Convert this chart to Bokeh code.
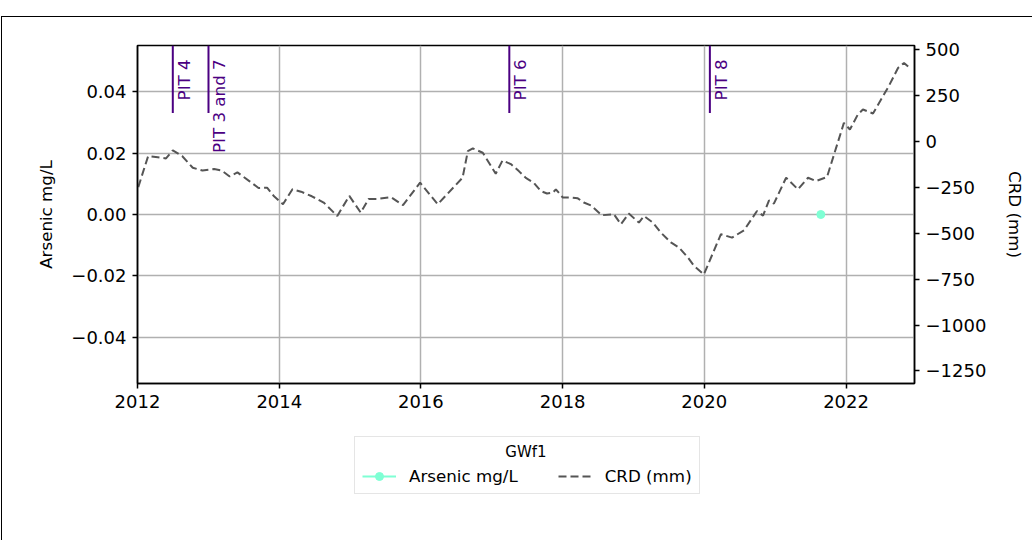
import math
import pandas as pd
from bokeh.plotting import figure
from bokeh.layouts import column
from bokeh.models import (Range1d, LinearAxis, FixedTicker, CustomJSTickFormatter,
                          Legend, LegendItem, ColumnDataSource, Label)
from bokeh.core.properties import value
from bokeh.embed import file_html
from bokeh.resources import INLINE

# ---------------- data ----------------
crd_dates = [
    "2012-01-05", "2012-02-25", "2012-04-15", "2012-05-27", "2012-07-01", "2012-08-18",
    "2012-10-12", "2012-12-01", "2013-01-30", "2013-03-10", "2013-04-20", "2013-05-30",
    "2013-08-03", "2013-09-16", "2013-10-30", "2013-12-05", "2014-01-20", "2014-03-10",
    "2014-04-23", "2014-06-18", "2014-08-18", "2014-10-27", "2014-12-28", "2015-02-25",
    "2015-04-06", "2015-05-23", "2015-07-31", "2015-10-01", "2015-12-28", "2016-03-28",
    "2016-08-03", "2016-08-30", "2016-09-25", "2016-11-15", "2017-01-21", "2017-02-25",
    "2017-04-09", "2017-05-20", "2017-06-25", "2017-08-05", "2017-09-10", "2017-10-12",
    "2017-11-12", "2017-11-27", "2018-01-02", "2018-02-13", "2018-03-20", "2018-04-20",
    "2018-05-27", "2018-07-22", "2018-09-22", "2018-10-28", "2018-12-08", "2019-01-29",
    "2019-02-24", "2019-04-11", "2019-05-22", "2019-07-13", "2019-08-23", "2019-10-09",
    "2019-11-09", "2019-12-30", "2020-03-27", "2020-05-23", "2020-07-24", "2020-09-29",
    "2020-10-30", "2020-11-30", "2020-12-25", "2021-02-26", "2021-04-28", "2021-06-19",
    "2021-07-30", "2021-09-25", "2021-12-21", "2022-01-21", "2022-03-03", "2022-03-29",
    "2022-05-20", "2022-08-10", "2022-09-26", "2022-10-27", "2022-11-22",
]
crd_values = [
    -250, -81, -88, -94, -50, -81,
    -145, -160, -152, -160, -192, -170,
    -220, -255, -253, -300, -343, -262,
    -275, -300, -334, -407, -298, -389,
    -315, -314, -305, -348, -226, -343,
    -199, -55, -40, -63, -177, -105,
    -125, -163, -200, -226, -271, -285,
    -280, -262, -307, -307, -311, -334,
    -350, -403, -397, -452, -394, -443,
    -407, -443, -497, -551, -578, -633,
    -678, -725, -506, -525, -485, -380,
    -405, -322, -340, -199, -262, -199,
    -217, -195, 99, 63, 145, 172,
    150, 300, 398, 425, 401,
]

arsenic_dates = ["2021-08-24"]
arsenic_values = [0.0]

pit_labels = ["PIT 4", "PIT 3 and 7", "PIT 6", "PIT 8"]
pit_dates = ["2012-07-01", "2013-01-01", "2017-04-01", "2020-01-30"]

left_ticks = [-0.04, -0.02, 0.0, 0.02, 0.04]
right_ticks = [-1250, -1000, -750, -500, -250, 0, 250, 500]
year_ticks = [2012, 2014, 2016, 2018, 2020, 2022]

legend_title = "GWf1"
series_names = ["Arsenic mg/L", "CRD (mm)"]

# ---------------- styling ----------------
FONT = "DejaVu Sans"
FS = "16.7px"
TICK_FS = "18px"
AS_COLOR = "aquamarine"
CRD_COLOR = "#555555"
PIT_COLOR = "indigo"

x_start = pd.Timestamp("2012-01-01")
x_end = pd.Timestamp("2022-12-20")

W = 1030
p = figure(width=W, height=406, output_backend="svg", toolbar_location=None,
           x_axis_type="datetime",
           x_range=Range1d(x_start, x_end), y_range=Range1d(-0.055, 0.055),
           min_border_left=135, min_border_right=118, min_border_top=28, min_border_bottom=40)
p.background_fill_color = "white"
p.border_fill_color = "white"
p.outline_line_color = "black"
p.outline_line_width = 1.5

p.extra_y_ranges = {"crd": Range1d(-1318, 520)}

def ms(d):
    return pd.Timestamp(d).value / 1e6

def style_axis(ax):
    ax.axis_line_color = "black"
    ax.axis_line_width = 1.5
    ax.major_tick_line_color = "black"
    ax.major_tick_line_width = 1.5
    ax.major_tick_out = 5
    ax.major_tick_in = 0
    ax.minor_tick_line_color = None
    ax.major_label_text_font = FONT
    ax.major_label_text_font_size = TICK_FS
    ax.major_label_text_color = "black"
    ax.axis_label_text_font = FONT
    ax.axis_label_text_font_size = FS
    ax.axis_label_text_font_style = "normal"
    ax.axis_label_text_color = "black"

xa = p.xaxis[0]
xa.ticker = FixedTicker(ticks=[ms(f"{y}-01-01") for y in year_ticks])
xa.formatter = CustomJSTickFormatter(code="return String(new Date(tick).getUTCFullYear());")
style_axis(xa)
xa.major_label_standoff = 6

ya = p.yaxis[0]
ya.ticker = FixedTicker(ticks=left_ticks)
ya.formatter = CustomJSTickFormatter(
    code="var s = Math.abs(tick).toFixed(2); return (tick < -1e-9 ? '\u2212' : '') + s;")
ya.axis_label = "Arsenic mg/L"
style_axis(ya)
ya.major_label_standoff = 6
ya.axis_label_standoff = 12

ra = LinearAxis(y_range_name="crd", axis_label="CRD (mm)")
ra.ticker = FixedTicker(ticks=right_ticks)
ra.formatter = CustomJSTickFormatter(
    code="return (tick < 0 ? '\u2212' : '') + String(Math.abs(tick));")
style_axis(ra)
ra.major_label_standoff = 6
ra.axis_label_standoff = 16
p.add_layout(ra, "right")

p.xgrid.grid_line_color = "#b0b0b0"
p.xgrid.grid_line_width = 1.5
p.ygrid.grid_line_color = "#b0b0b0"
p.ygrid.grid_line_width = 1.5

# ---------------- glyphs ----------------
crd_src = ColumnDataSource(dict(x=pd.to_datetime(crd_dates), y=crd_values))
p.line("x", "y", source=crd_src, y_range_name="crd",
       line_color=CRD_COLOR, line_width=2, line_dash="8 4")

ars_src = ColumnDataSource(dict(x=pd.to_datetime(arsenic_dates), y=arsenic_values))
p.line("x", "y", source=ars_src, line_color=AS_COLOR, line_width=2)
p.scatter("x", "y", source=ars_src, marker="circle", size=8,
          fill_color=AS_COLOR, line_color=AS_COLOR)

pit_src = ColumnDataSource(dict(x=pd.to_datetime(pit_dates), label=pit_labels,
                                y0=[0.033] * len(pit_dates), y1=[0.055] * len(pit_dates),
                                ty=[0.0505] * len(pit_dates)))
p.segment(x0="x", y0="y0", x1="x", y1="y1", source=pit_src,
          line_color=PIT_COLOR, line_width=2)
p.text(x="x", y="ty", text="label", source=pit_src, angle=math.pi / 2,
       text_align="right", text_baseline="top", x_offset=1,
       text_color=PIT_COLOR, text_font=value(FONT), text_font_size=value(FS))

# ---------------- legend (in a strip below the chart) ----------------
q = figure(width=W, height=117, output_backend="svg", toolbar_location=None,
           x_range=Range1d(0, 1), y_range=Range1d(0, 1),
           min_border_left=0, min_border_right=0, min_border_top=0, min_border_bottom=0)
q.axis.visible = False
q.grid.visible = False
q.outline_line_color = None
q.background_fill_color = "white"
q.border_fill_color = "white"
# legend-key renderers (placed outside the visible range; only their legend keys show)
l_as_line = q.line(x=[-5, -4], y=[-5, -5], line_color=AS_COLOR, line_width=2)
l_as_pts = q.scatter(x=[-5], y=[-5], marker="circle", size=8,
                     fill_color=AS_COLOR, line_color=AS_COLOR)
l_crd = q.line(x=[-5, -4], y=[-5, -5], line_color=CRD_COLOR, line_width=2, line_dash="8 4")

legend = Legend(items=[LegendItem(label=series_names[0], renderers=[l_as_line, l_as_pts]),
                       LegendItem(label=series_names[1], renderers=[l_crd])],
                orientation="horizontal", location=(217, 46),
                title="\u00a0")
legend.title_text_font = FONT
legend.title_text_font_size = "15px"
legend.title_text_font_style = "normal"
legend.label_text_font = FONT
legend.label_text_font_size = FS
legend.label_text_color = "black"
legend.border_line_color = "#cccccc"
legend.border_line_width = 1.5
legend.background_fill_color = "white"
legend.background_fill_alpha = 0.0
legend.glyph_width = 34
legend.glyph_height = 20
legend.label_standoff = 13
legend.spacing = 40
legend.padding = 7
legend.margin = 0
legend.title_standoff = 4
q.add_layout(legend, "center")

title_lbl = Label(x=0.5, y=0.76, text=legend_title, text_align="center",
                  text_baseline="middle", text_font=FONT, text_font_size="15px",
                  text_color="black", level="overlay")
q.add_layout(title_lbl)

layout = column(p, q, spacing=0)
layout.styles = {"margin-left": "1px", "margin-top": "16px",
                 "border-top": "1px solid black", "border-left": "1px solid black"}

open("out.html", "w").write(file_html(layout, INLINE))
